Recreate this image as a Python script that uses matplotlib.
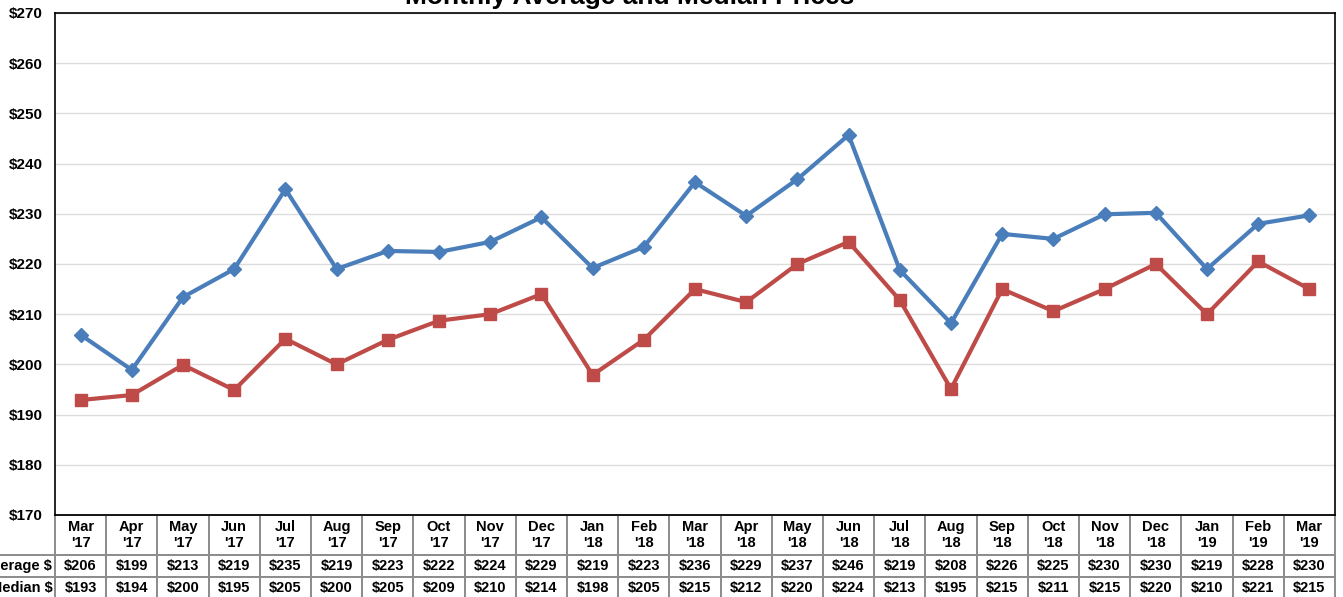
import matplotlib.pyplot as plt
import numpy as np

plt.rcParams['font.family'] = ['Liberation Sans', 'DejaVu Sans']

MONTHS = ["Mar\n'17", "Apr\n'17", "May\n'17", "Jun\n'17", "Jul\n'17", "Aug\n'17",
          "Sep\n'17", "Oct\n'17", "Nov\n'17", "Dec\n'17", "Jan\n'18", "Feb\n'18",
          "Mar\n'18", "Apr\n'18", "May\n'18", "Jun\n'18", "Jul\n'18", "Aug\n'18",
          "Sep\n'18", "Oct\n'18", "Nov\n'18", "Dec\n'18", "Jan\n'19", "Feb\n'19",
          "Mar\n'19"]

# plotted (unrounded) values
AVERAGE = [205.9, 198.9, 213.4, 219.0, 234.9, 219.0, 222.6, 222.4, 224.4, 229.3,
           219.2, 223.4, 236.3, 229.6, 236.9, 245.7, 218.8, 208.2, 226.0, 225.0,
           229.9, 230.2, 219.0, 228.0, 229.7]
MEDIAN = [192.9, 193.9, 199.9, 194.9, 205.1, 200.0, 204.9, 208.7, 210.0, 214.0,
          197.9, 204.9, 215.0, 212.4, 220.0, 224.4, 212.8, 195.1, 215.0, 210.6,
          215.0, 220.0, 210.0, 220.5, 215.0]

# values printed in the data table
AVG_LABELS = [206, 199, 213, 219, 235, 219, 223, 222, 224, 229, 219, 223, 236,
              229, 237, 246, 219, 208, 226, 225, 230, 230, 219, 228, 230]
MED_LABELS = [193, 194, 200, 195, 205, 200, 205, 209, 210, 214, 198, 205, 215,
              212, 220, 224, 213, 195, 215, 211, 215, 220, 210, 221, 215]

BLUE = '#4A7EBB'
RED = '#BE4B48'

W, H = 1343, 597
fig = plt.figure(figsize=(W / 100, H / 100), dpi=100)
left, right, top, bottom = 55, 1335, 13, 515
ax = fig.add_axes([left / W, 1 - bottom / H, (right - left) / W, (bottom - top) / H])

x = np.arange(len(MONTHS))
ax.plot(x, AVERAGE, color=BLUE, lw=3, marker='D', ms=7, mfc=BLUE, mec=BLUE, zorder=3)
ax.plot(x, MEDIAN, color=RED, lw=3, marker='s', ms=9, mfc=RED, mec=RED, zorder=3)

ax.set_xlim(-0.5, len(MONTHS) - 0.5)
ax.set_ylim(170, 270)
ax.set_yticks(np.arange(170, 271, 10))
ax.set_yticklabels([f'${v}' for v in range(170, 271, 10)], fontsize=11, fontweight='bold')
ax.tick_params(axis='y', length=0, pad=9)
ax.set_xticks([])
ax.grid(axis='y', color='#dcdcdc', lw=1)
ax.set_axisbelow(True)
for s in ax.spines.values():
    s.set_color('black')
    s.set_linewidth(1.2)

# data table under the plot
label_w = 90
col_w = (right - left) / len(MONTHS)
ax_h = bottom - top
cell_text = [["Average $"] + [f'${v}' for v in AVG_LABELS],
             ["Median $"] + [f'${v}' for v in MED_LABELS]]
widths = [label_w / (right - left)] + [col_w / (right - left)] * len(MONTHS)
tbl = ax.table(cellText=cell_text, colLabels=[''] + MONTHS, colWidths=widths,
               cellLoc='center',
               bbox=[-label_w / (right - left), -84 / ax_h,
                     1 + label_w / (right - left), 84 / ax_h])
tbl.auto_set_font_size(False)
for (r, c), cell in tbl.get_celld().items():
    cell.set_edgecolor('#8c8c8c')
    cell.set_linewidth(1.4)
    cell.get_text().set_fontsize(10.5)
    cell.get_text().set_fontweight('bold')
    cell.set_height(40 if r == 0 else 22)
    if c == 0:
        cell.get_text().set_ha('right')
        cell._loc = 'right'
        cell.PAD = 0.03
        if r == 0:
            cell.visible_edges = ''

fig.text(630 / W, 1 - 4 / H, 'Monthly Average and Median Prices', ha='center',
         va='baseline', fontsize=19, fontweight='bold')

fig.savefig('out.png', dpi=100)
